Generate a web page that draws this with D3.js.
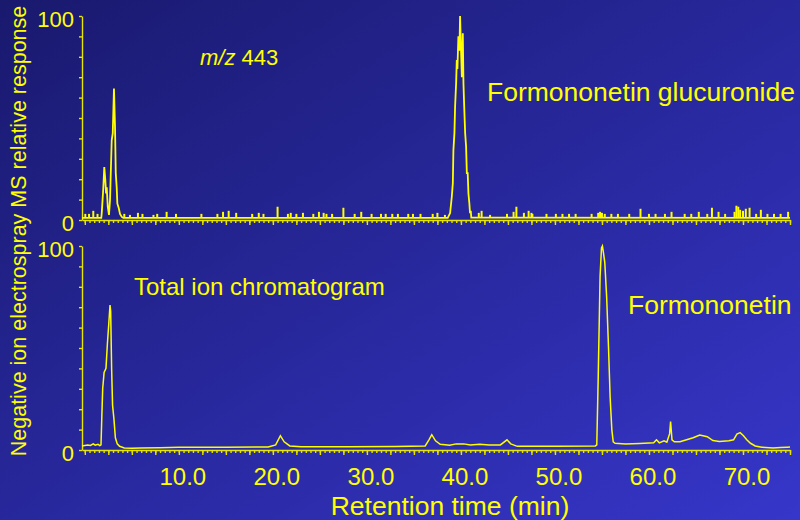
<!DOCTYPE html>
<html>
<head>
<meta charset="utf-8">
<script src="https://cdn.jsdelivr.net/npm/d3@7"></script>
<style>
	html, body { margin: 0; padding: 0; background: #23239a; }
	svg { display: block; font-family: "Liberation Sans", Arial, sans-serif; }
</style>
</head>
<body>
<div id="chart"></div>
<script>

// m/z 443 trace (time in min, relative response %)
let glucTrace = [
	[-0.3, 1], [1.75, 1], [1.8, 3.4], [1.97, 16], [2.07, 26], [2.18, 19.6], [2.26, 13], [2.33, 16],
	[2.44, 6.5], [2.57, 2.5], [2.68, 9.8], [2.86, 39], [2.97, 42.5], [3.1, 64.5], [3.21, 45.7],
	[3.29, 23], [3.39, 16], [3.46, 8], [3.6, 6], [3.74, 3], [3.93, 1.5], [4.1, 1],
	[38.6, 1], [38.85, 3.4], [39.03, 11.4], [39.14, 18], [39.2, 34], [39.31, 42.6], [39.38, 55.5],
	[39.49, 67], [39.56, 78.4], [39.63, 74], [39.73, 90], [39.84, 83], [39.91, 100], [39.99, 86.6],
	[40.1, 70], [40.2, 91.5], [40.27, 67], [40.34, 57], [40.45, 42.6], [40.55, 36], [40.63, 23],
	[40.72, 23], [40.8, 13], [40.9, 8], [40.97, 3.3], [41.05, 4.5], [41.1, 1.2], [75, 1]
];

// small noise spikes on the m/z 443 baseline
let glucSpikes = [
	[0.05, 3], [0.45, 3], [0.9, 4.5], [1.35, 3], [4.2, 3], [4.8, 2.5], [5.65, 3.5], [6.13, 3],
	[7.3, 2.5], [7.7, 3], [8.7, 4], [9.7, 3], [12.4, 3], [14.1, 3], [14.7, 4], [15.3, 4.5],
	[16.1, 3.5], [17.8, 3], [18.5, 3.5], [19.0, 3], [20.5, 6.5], [21.6, 3], [21.9, 3.5],
	[22.5, 3], [23.2, 3.5], [24.3, 3], [24.9, 4], [25.4, 3.5], [25.7, 3], [26.3, 3],
	[27.5, 6], [28.7, 3], [29.4, 4], [30.5, 3], [31.5, 3], [32.0, 3], [32.7, 3],
	[33.3, 3], [34.4, 3], [34.9, 3], [35.7, 3], [37.0, 3], [37.5, 3.5], [38.3, 2.5],
	[41.9, 3.5], [42.2, 4.5], [43.1, 2.5], [44.9, 3], [45.6, 4], [45.9, 6.5], [46.7, 3.5],
	[47.2, 4.5], [47.5, 3.5], [47.6, 3], [49.1, 3], [50.1, 3], [50.8, 3], [51.5, 3],
	[52.2, 3], [53.9, 3], [54.6, 3.5], [54.8, 4], [55.0, 3.5], [55.3, 3], [56.0, 3],
	[56.7, 3], [57.9, 3], [59.1, 5.5], [60.0, 3], [60.7, 3], [61.7, 3], [62.4, 4],
	[63.8, 3], [64.5, 3], [65.3, 4], [66.2, 3], [66.7, 6], [67.4, 4], [68.1, 3],
	[69.1, 4], [69.3, 7], [69.5, 6.5], [69.7, 5], [70.0, 4.5], [70.3, 5.5], [70.7, 6],
	[71.4, 3], [71.9, 5], [72.6, 3], [73.3, 3], [74.0, 3], [74.8, 4]
];

// total ion chromatogram
let ticTrace = [
	[-0.3, 2], [0.3, 2.5], [0.6, 2.2], [0.9, 3], [1.1, 2.4], [1.4, 2.8], [1.6, 2.2], [1.72, 2.5],
	[1.8, 15], [1.9, 30], [2.05, 38], [2.25, 40], [2.4, 52], [2.55, 62], [2.68, 71], [2.75, 68],
	[2.85, 40], [2.95, 22], [3.1, 15], [3.25, 6], [3.45, 3], [3.7, 1.8], [4.2, 1], [5, 0.8],
	[6, 1], [8, 1.1], [10, 1.3], [15, 1.4], [19.5, 1.5], [20.3, 2.5], [20.8, 7], [21.2, 4],
	[21.8, 2], [23, 1.6], [28, 1.6], [33, 1.7], [36.2, 2], [36.6, 5], [36.9, 7.5], [37.3, 4.5],
	[37.8, 2.8], [38.8, 2.3], [39.5, 3], [40.3, 3], [41, 2.5], [42, 2.8], [43, 2.5], [44.2, 2.5],
	[44.9, 5], [45.3, 3], [46, 1.8], [50, 1.8], [54.3, 2], [54.45, 2.5], [54.6, 35], [54.8, 85],
	[54.95, 99], [55.05, 100], [55.15, 97], [55.3, 92], [55.5, 75], [55.7, 50], [55.87, 26],
	[56.05, 10], [56.2, 4], [56.4, 3.3], [57.5, 3], [59, 3.2], [60.5, 3.5], [60.8, 5], [61.1, 3.5],
	[61.6, 4.5], [61.9, 3.8], [62.2, 8], [62.3, 14], [62.45, 5], [62.7, 4], [63.3, 4], [64, 5],
	[64.7, 6], [65.4, 7.3], [66.2, 6.5], [66.8, 4.6], [67.5, 4.2], [68.5, 4.5], [69, 5],
	[69.35, 7.8], [69.7, 8.5], [70.05, 7], [70.4, 5], [70.8, 3.3], [71.3, 2], [72, 1.4],
	[73.2, 1], [74, 1.2], [74.7, 1.4], [75, 1.5]
];

let xTickLabels = [10, 20, 30, 40, 50, 60, 70];
let yTickLabels = [0, 100];
let xTitle = "Retention time (min)";
let yTitle = "Negative ion electrospray MS relative response";


class ChromVis {

	constructor(_parentElement) {
		this.parentElement = _parentElement;
		this.initVis();
	}

	initVis() {
		let vis = this;

		vis.width = 800;
		vis.height = 520;
		vis.yellow = "#ffff00";

		vis.svg = d3.select("#" + vis.parentElement).append("svg")
			.attr("width", vis.width)
			.attr("height", vis.height);

		// background gradient
		let grad = vis.svg.append("defs").append("linearGradient")
			.attr("id", "bg")
			.attr("x1", 0).attr("y1", 0)
			.attr("x2", 1).attr("y2", 1);
		grad.append("stop").attr("offset", "0%").attr("stop-color", "#19196e");
		grad.append("stop").attr("offset", "100%").attr("stop-color", "#3636ca");

		vis.svg.append("rect")
			.attr("width", vis.width)
			.attr("height", vis.height)
			.attr("fill", "url(#bg)");

		// scales
		vis.x = d3.scaleLinear().domain([-0.3, 75]).range([82, 790]);
		vis.yTop = d3.scaleLinear().domain([0, 100]).range([220, 16]);
		vis.yBot = d3.scaleLinear().domain([0, 100]).range([450, 246]);

		vis.drawPanel(vis.yTop, false);
		vis.drawPanel(vis.yBot, true);

		vis.updateVis();
	}

	drawPanel(y, withLabels) {
		let vis = this;
		let y0 = y.range()[0];

		// x axis: minor ticks every 0.5, longer every 2.5
		let xMinor = d3.axisBottom(vis.x)
			.tickValues(d3.range(0, 75.01, 0.5))
			.tickSize(3).tickSizeOuter(0).tickFormat("");
		let xMajor = d3.axisBottom(vis.x)
			.tickValues(d3.range(0, 75.01, 2.5))
			.tickSize(5).tickSizeOuter(0).tickFormat("");

		vis.svg.append("g").attr("class", "x-axis")
			.attr("transform", "translate(0," + y0 + ")")
			.call(xMinor);
		vis.svg.append("g").attr("class", "x-axis")
			.attr("transform", "translate(0," + y0 + ")")
			.call(xMajor)
			.select(".domain").remove();

		// y axis
		let yAxis = d3.axisLeft(y)
			.tickValues(d3.range(0, 100.01, 10))
			.tickSize(3).tickSizeOuter(0).tickFormat("");
		vis.svg.append("g").attr("class", "y-axis")
			.attr("transform", "translate(82,0)")
			.call(yAxis);

		vis.svg.selectAll(".x-axis path, .x-axis line, .y-axis path, .y-axis line")
			.attr("stroke", "#e6e600")
			.attr("stroke-width", 1.4);

		vis.svg.append("g").selectAll("text")
			.data(yTickLabels)
			.enter().append("text")
			.attr("x", 74)
			.attr("y", d => y(d) + 3)
			.attr("dy", "0.35em")
			.attr("text-anchor", "end")
			.attr("fill", vis.yellow)
			.attr("font-size", 22)
			.text(d => d);

		if (withLabels) {
			vis.svg.append("g").selectAll("text")
				.data(xTickLabels)
				.enter().append("text")
				.attr("x", d => vis.x(d) + 4)
				.attr("y", 485)
				.attr("text-anchor", "middle")
				.attr("fill", vis.yellow)
				.attr("font-size", 24)
				.text(d => d3.format(".1f")(d));
		}
	}

	updateVis() {
		let vis = this;

		let lineTop = d3.line()
			.x(d => vis.x(d[0]))
			.y(d => vis.yTop(d[1]));
		let lineBot = d3.line()
			.x(d => vis.x(d[0]))
			.y(d => vis.yBot(d[1]));

		// noise spikes
		vis.svg.append("g").selectAll("line")
			.data(glucSpikes)
			.enter().append("line")
			.attr("x1", d => vis.x(d[0]))
			.attr("x2", d => vis.x(d[0]))
			.attr("y1", vis.yTop(1))
			.attr("y2", d => vis.yTop(d[1]))
			.attr("stroke", vis.yellow)
			.attr("stroke-width", 2);

		vis.svg.append("path")
			.datum(glucTrace)
			.attr("d", lineTop)
			.attr("fill", "none")
			.attr("stroke", vis.yellow)
			.attr("stroke-width", 1.8);

		vis.svg.append("path")
			.datum(ticTrace)
			.attr("d", lineBot)
			.attr("fill", "none")
			.attr("stroke", vis.yellow)
			.attr("stroke-width", 1.5);

		// annotations
		let mz = vis.svg.append("text")
			.attr("x", 200).attr("y", 65)
			.attr("fill", vis.yellow)
			.attr("font-size", 22);
		mz.append("tspan").attr("font-style", "italic").text("m/z");
		mz.append("tspan").text(" 443");

		vis.svg.append("text")
			.attr("x", 487).attr("y", 101)
			.attr("fill", vis.yellow)
			.attr("font-size", 26.5)
			.text("Formononetin glucuronide");

		vis.svg.append("text")
			.attr("x", 134).attr("y", 295)
			.attr("fill", vis.yellow)
			.attr("font-size", 24)
			.text("Total ion chromatogram");

		vis.svg.append("text")
			.attr("x", 628).attr("y", 314)
			.attr("fill", vis.yellow)
			.attr("font-size", 26.5)
			.text("Formononetin");

		// axis titles
		vis.svg.append("text")
			.attr("transform", "translate(26,231) rotate(-90)")
			.attr("text-anchor", "middle")
			.attr("fill", vis.yellow)
			.attr("font-size", 21.5)
			.text(yTitle);

		vis.svg.append("text")
			.attr("x", 450).attr("y", 515)
			.attr("text-anchor", "middle")
			.attr("fill", vis.yellow)
			.attr("font-size", 26.5)
			.text(xTitle);
	}
}

new ChromVis("chart");

</script>
</body>
</html>
